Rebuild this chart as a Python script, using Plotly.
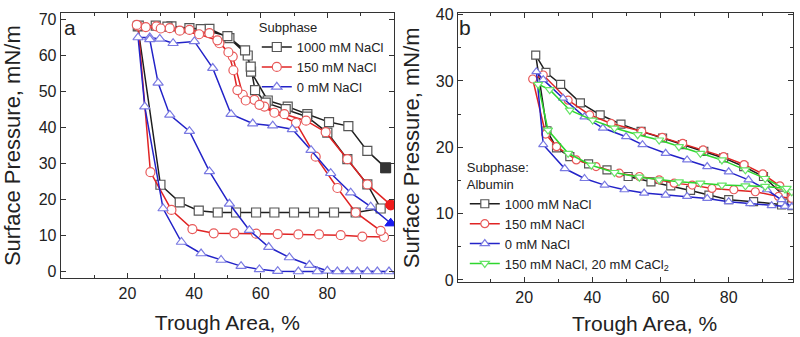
import plotly.graph_objects as go

# ---------------- Panel a (Subphase) ----------------
# 1000 mM NaCl: compression 1 -> expansion -> compression 2
a1000_x = [97.5, 92.0, 86.3, 80.5, 74.0, 68.1, 62.1, 57.1, 56.1, 50.6, 44.6, 38.6, 33.2, 28.5, 23.1,
           29.9, 35.7, 41.4, 47.1, 52.6, 58.6, 64.1, 70.0, 76.0, 82.0, 88.5, 96.0,
           92.0, 86.0, 80.0, 73.9, 67.5, 61.5, 58.3, 57.0, 55.3, 50.0, 42.0, 32.0, 23.4]
a1000_y = [28.9, 33.6, 40.5, 41.6, 43.8, 45.9, 47.6, 55.6, 60.1, 64.9, 67.5, 67.7, 68.2, 68.4, 68.2,
           24.2, 19.3, 17.0, 16.5, 16.5, 16.5, 16.5, 16.5, 16.5, 16.5, 16.5, 17.6,
           24.3, 31.3, 38.7, 43.1, 45.2, 47.0, 50.5, 57.0, 61.5, 65.5, 67.4, 68.1, 68.4]

# 150 mM NaCl
a150_x = [99.0, 92.0, 86.0, 79.5, 73.6, 67.1, 61.1, 58.1, 54.6, 51.6, 47.6, 44.6, 38.6, 32.7, 28.7, 23.2,
          26.9, 33.2, 39.5, 45.9, 52.1, 58.6, 65.1, 71.3, 77.5, 84.0, 90.5, 97.0,
          96.0, 88.5, 83.0, 76.5, 70.6, 64.1, 59.6, 55.5, 53.0, 51.8, 50.3, 47.0, 41.5, 35.7, 30.0, 25.5, 22.8]
a150_y = [18.6, 24.3, 31.3, 38.8, 42.0, 43.8, 45.9, 47.8, 49.2, 59.8, 63.5, 66.3, 67.2, 67.7, 68.2, 68.3,
          27.7, 17.2, 11.9, 10.7, 10.7, 10.6, 10.5, 10.4, 10.4, 10.2, 9.8, 9.7,
          11.4, 16.5, 23.3, 32.0, 41.4, 44.2, 46.4, 47.6, 50.5, 56.0, 61.0, 64.3, 66.0, 67.0, 67.6, 68.0, 68.6]

# 0 mM NaCl
a0_x = [99.0, 93.0, 87.0, 81.0, 75.1, 69.5, 63.6, 57.6, 51.1, 45.6, 40.1, 33.7, 29.7, 26.7, 23.2,
        25.2, 30.7, 36.2, 42.1, 48.1, 54.1, 59.6, 65.1, 71.3, 77.0, 83.0, 89.0, 95.0, 98.5,
        92.0, 86.0, 80.0, 74.6, 68.6, 62.4, 56.6, 50.6, 44.6, 38.6, 32.7, 29.2, 26.7]
a0_y = [13.5, 18.1, 22.0, 27.4, 33.8, 39.6, 40.6, 41.2, 43.8, 56.6, 64.0, 63.5, 64.7, 65.1, 65.1,
        45.9, 17.6, 8.3, 5.1, 3.3, 1.6, 0.7, 0.2, 0.1, 0.1, 0.1, 0.1, 0.1, 0.1,
        0.1, 0.1, 0.3, 1.9, 4.0, 6.9, 11.6, 18.9, 27.9, 39.1, 43.6, 52.5, 64.6]

# ---------------- Panel b (Subphase: Albumin) ----------------
b1000_x = [98.5, 96.0, 90.2, 84.4, 78.5, 72.7, 66.4, 60.6, 54.3, 48.4, 42.3, 36.5, 30.7, 26.4, 23.4,
           26.7, 29.5, 33.4, 38.9, 44.3, 50.5, 57.2, 63.0, 68.8, 74.2, 80.0, 87.3, 95.5, 98.5]
b1000_y = [11.9, 12.8, 15.6, 17.1, 18.4, 19.4, 20.4, 21.4, 22.4, 23.5, 24.9, 26.7, 29.5, 31.3, 33.9,
           22.5, 19.9, 18.6, 17.5, 16.6, 15.6, 14.8, 14.2, 13.5, 12.8, 12.1, 11.8, 11.3, 11.2]

b150_x = [98.5, 95.0, 90.0, 84.5, 78.5, 72.5, 66.5, 60.5, 54.5, 45.5, 39.2, 32.9, 25.6, 22.5,
          26.3, 29.5, 35.3, 41.1, 47.9, 53.8, 59.6, 64.0, 69.3, 75.1, 81.5, 87.8, 94.6, 98.5]
b150_y = [12.5, 14.2, 16.0, 17.4, 18.6, 19.6, 20.6, 21.5, 22.4, 23.6, 24.9, 27.1, 30.9, 30.3,
          22.0, 20.1, 18.1, 17.1, 16.1, 15.6, 15.1, 14.6, 14.3, 13.8, 13.6, 13.3, 12.6, 12.3]

b0_x = [98.5, 95.5, 91.2, 85.8, 80.0, 73.7, 67.8, 61.5, 54.7, 49.9, 43.1, 37.7, 31.4, 25.6, 23.6,
        25.6, 31.9, 37.7, 43.6, 49.4, 55.2, 61.5, 67.8, 73.7, 80.0, 86.3, 92.6, 96.5, 98.5]
b0_y = [11.0, 12.1, 13.6, 15.1, 16.3, 17.1, 18.1, 19.1, 20.4, 21.6, 22.9, 24.6, 27.4, 30.2, 31.4,
        20.4, 16.8, 15.3, 14.3, 13.6, 13.1, 12.8, 12.6, 12.3, 11.8, 11.5, 11.2, 11.1, 11.0]

bca_x = [98.5, 96.5, 90.7, 84.9, 78.0, 71.7, 65.4, 59.6, 53.3, 46.5, 40.1, 33.4, 27.5, 24.1,
         27.0, 32.9, 39.7, 46.5, 53.8, 59.6, 65.4, 71.7, 78.0, 84.9, 90.7, 97.0]
bca_y = [13.3, 13.7, 15.3, 16.6, 18.1, 19.1, 20.1, 21.1, 21.9, 22.9, 24.1, 25.6, 28.7, 29.5,
         22.6, 19.1, 17.3, 16.2, 15.5, 15.1, 14.8, 14.6, 14.3, 14.2, 14.1, 13.8]

names_a = ["1000 mM NaCl", "150 mM NaCl", "0 mM NaCl"]
names_b = ["1000 mM NaCl", "150 mM NaCl", "0 mM NaCl", "150 mM NaCl, 20 mM CaCl<sub>2</sub>"]

FONT = "Arial, Liberation Sans, sans-serif"
TXT = "#222222"

styles = [
    dict(line="#1e1e1e", edge="#555555", fill="#333333", symbol="square"),
    dict(line="#e02424", edge="#e85a5a", fill="#ee1c1c", symbol="circle"),
    dict(line="#2323c8", edge="#7a7ae2", fill="#1a1aee", symbol="triangle-up"),
    dict(line="#2ed62e", edge="#66e466", fill="#2ed62e", symbol="triangle-down"),
]

fig = go.Figure()

series_a = [(a1000_x, a1000_y), (a150_x, a150_y), (a0_x, a0_y)]
for (xs, ys), nm, st in zip(series_a, names_a, styles):
    fig.add_trace(go.Scatter(
        x=xs, y=ys, name=nm, mode="lines+markers", xaxis="x", yaxis="y", legend="legend",
        line=dict(color=st["line"], width=1.5),
        marker=dict(symbol=st["symbol"], size=9, color="white",
                    line=dict(color=st["edge"], width=1.2)),
    ))
# filled start points
for (xs, ys), st in zip(series_a, styles):
    fig.add_trace(go.Scatter(
        x=[xs[0]], y=[ys[0]], mode="markers", xaxis="x", yaxis="y", showlegend=False,
        marker=dict(symbol=st["symbol"], size=10, color=st["fill"],
                    line=dict(color=st["fill"], width=1)),
    ))

series_b = [(b1000_x, b1000_y), (b150_x, b150_y), (b0_x, b0_y), (bca_x, bca_y)]
for (xs, ys), nm, st in zip(series_b, names_b, styles):
    fig.add_trace(go.Scatter(
        x=xs, y=ys, name=nm, mode="lines+markers", xaxis="x2", yaxis="y2", legend="legend2",
        line=dict(color=st["line"], width=1.5),
        marker=dict(symbol=st["symbol"], size=8, color="white",
                    line=dict(color=st["edge"], width=1.2)),
    ))

axis_common = dict(
    showline=True, linecolor="#333333", linewidth=1.3, mirror="allticks",
    ticks="inside", ticklen=5, tickwidth=1.2, tickcolor="#333333",
    showgrid=False, zeroline=False,
    tickfont=dict(family=FONT, size=16, color=TXT),
)

fig.update_layout(
    width=800, height=337,
    margin=dict(l=0, r=0, t=0, b=0),
    paper_bgcolor="white", plot_bgcolor="white",
    font=dict(family=FONT, color=TXT),
    xaxis=dict(domain=[0.076, 0.4925], range=[0, 100], anchor="y",
               tickmode="array", tickvals=[20, 40, 60, 80],
               minor=dict(tickmode="array", tickvals=[10, 30, 50, 70, 90], ticks="inside",
                          ticklen=3, tickcolor="#333333"),
               title=dict(text="Trough Area, %", font=dict(family=FONT, size=21, color=TXT), standoff=14),
               automargin=False, **axis_common),
    yaxis=dict(domain=[0.174, 0.9614], range=[-1.8, 71.9], anchor="x",
               tickmode="linear", tick0=0, dtick=10,
               title=dict(text="Surface Pressure, mN/m", font=dict(family=FONT, size=22, color=TXT), standoff=11),
               automargin=False, **axis_common),
    xaxis2=dict(domain=[0.5725, 0.991], range=[0.6, 98.8], anchor="y2",
                tickmode="array", tickvals=[20, 40, 60, 80],
                minor=dict(tickmode="array", tickvals=[10, 30, 50, 70, 90], ticks="inside",
                           ticklen=3, tickcolor="#333333"),
                automargin=False, **axis_common),
    yaxis2=dict(domain=[0.1623, 0.9605], range=[-0.35, 40.2], anchor="x2",
                tickmode="linear", tick0=0, dtick=10,
                minor=dict(dtick=5, ticks="inside", ticklen=3, tickcolor="#333333"),
                title=dict(text="Surface Pressure, mN/m", font=dict(family=FONT, size=22, color=TXT), standoff=10),
                automargin=False, **axis_common),
    legend=dict(x=0.321, y=0.955, xanchor="left", yanchor="top", bgcolor="rgba(0,0,0,0)",
                font=dict(family=FONT, size=13, color=TXT), tracegroupgap=0,
                title=dict(text="Subphase", side="top", font=dict(family=FONT, size=13, color=TXT))),
    legend2=dict(x=0.581, y=0.54, xanchor="left", yanchor="top", bgcolor="rgba(0,0,0,0)",
                 font=dict(family=FONT, size=13, color=TXT), tracegroupgap=0,
                 title=dict(text="Subphase:<br>Albumin", side="top", font=dict(family=FONT, size=13, color=TXT))),
    annotations=[
        dict(text="a", x=0.0875, y=0.917, xref="paper", yref="paper", showarrow=False,
             xanchor="center", yanchor="middle", font=dict(family=FONT, size=21, color=TXT)),
        dict(text="b", x=0.581, y=0.917, xref="paper", yref="paper", showarrow=False,
             xanchor="center", yanchor="middle", font=dict(family=FONT, size=21, color=TXT)),
        dict(text="Trough Area, %", x=0.806, y=0.0415, xref="paper", yref="paper", showarrow=False,
             xanchor="center", yanchor="middle", font=dict(family=FONT, size=21, color=TXT)),
    ],
)

fig.write_html("out.html", config={"displayModeBar": False},
               post_script="document.body.style.margin='0px';document.body.style.overflow='hidden';")
